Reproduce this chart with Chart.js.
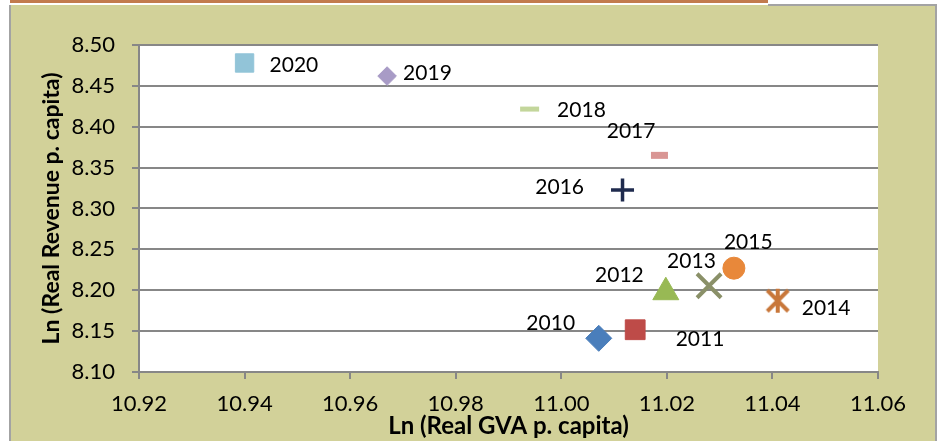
<!DOCTYPE html>
<html>
<head>
<meta charset="utf-8">
<script src="https://cdn.jsdelivr.net/npm/chart.js@4/dist/chart.umd.min.js"></script>
<style>
  html, body { margin: 0; padding: 0; background: #ffffff; }
  #wrap { position: relative; width: 943px; height: 441px; }
  canvas { display: block; }
</style>
</head>
<body>
<div id="wrap"><canvas id="c" width="943" height="441"></canvas></div>
<script>
// Years and the two log-scaled measures per year
const years = ['2010', '2011', '2012', '2013', '2014', '2015', '2016', '2017', '2018', '2019', '2020'];
const lnGvaPerCapita = [11.0071, 11.0140, 11.0198, 11.0280, 11.0410, 11.0327, 11.0116, 11.0186, 10.9940, 10.9670, 10.9400];
const lnRevenuePerCapita = [8.1412, 8.1517, 8.1976, 8.2055, 8.1872, 8.2270, 8.3225, 8.3650, 8.4216, 8.4620, 8.4780];

// Axis ticks
const xTickValues = [10.92, 10.94, 10.96, 10.98, 11.00, 11.02, 11.04, 11.06];
const yTickValues = [8.10, 8.15, 8.20, 8.25, 8.30, 8.35, 8.40, 8.45, 8.50];

// Asterisk marker (X with a vertical stroke)
function makeAsterisk(size, color, lw) {
  const cv = document.createElement('canvas');
  cv.width = size; cv.height = size;
  const g = cv.getContext('2d');
  g.strokeStyle = color; g.lineWidth = lw; g.lineCap = 'butt';
  const p = lw / 2 + 0.5, q = size - p, m = size / 2;
  g.beginPath();
  g.moveTo(p, p); g.lineTo(q, q);
  g.moveTo(q, p); g.lineTo(p, q);
  g.moveTo(m, 1); g.lineTo(m, size - 1);
  g.stroke();
  return cv;
}

// Marker look for each year
const markerStyles = [
  { style: 'rectRot',  r: 13,  color: '#4A7EBB', bw: 1 },
  { style: 'rect',     r: 14,  color: '#BE4B48', bw: 1 },
  { style: 'triangle', r: 15,  color: '#98B954', bw: 1 },
  { style: 'crossRot', r: 17,  color: '#8A9068', bw: 4 },
  { style: makeAsterisk(26, '#C8773A', 4), r: 13, color: '#C8773A', bw: 1 },
  { style: 'circle',   r: 11,  color: '#E8883A', bw: 1 },
  { style: 'cross',    r: 11.5, color: '#1F2B4E', bw: 3.5 },
  { style: 'line',     r: 8.5, color: '#D99694', bw: 7 },
  { style: 'line',     r: 9.5, color: '#C3D69B', bw: 5 },
  { style: 'rectRot',  r: 9.3, color: '#A89BC6', bw: 1 },
  { style: 'rect',     r: 13,  color: '#92C4D8', bw: 1 }
];

// Where each year's label sits relative to its marker
const labelPlacement = [
  { align: 'right', dx: -23.7, dy: -15.5 },
  { align: 'left',  dx: 40.5,  dy: 8.5 },
  { align: 'right', dx: -22,   dy: -18 },
  { align: 'left',  dx: -42,   dy: -25.5 },
  { align: 'left',  dx: 24,    dy: 7 },
  { align: 'left',  dx: -10,   dy: -26.5 },
  { align: 'right', dx: -38.5, dy: -4 },
  { align: 'right', dx: -4,    dy: -25 },
  { align: 'left',  dx: 27.5,  dy: 0 },
  { align: 'left',  dx: 16,    dy: -3.5 },
  { align: 'left',  dx: 25,    dy: 1 }
];

const datasets = years.map((yr, i) => ({
  label: yr,
  data: [{ x: lnGvaPerCapita[i], y: lnRevenuePerCapita[i] }],
  pointStyle: markerStyles[i].style,
  pointRadius: markerStyles[i].r,
  pointHoverRadius: markerStyles[i].r,
  pointBackgroundColor: markerStyles[i].color,
  pointBorderColor: markerStyles[i].color,
  pointBorderWidth: markerStyles[i].bw,
  showLine: false
}));

const FONT = 'Lato, "Liberation Sans", sans-serif';

// Panel background, frame and white plot area
const framePlugin = {
  id: 'frame',
  beforeDraw(chart) {
    const ctx = chart.ctx;
    const { left, top, right, bottom } = chart.chartArea;
    ctx.save();
    ctx.fillStyle = '#ffffff';
    ctx.fillRect(0, 0, chart.width, chart.height);
    ctx.fillStyle = '#D2D199';
    ctx.fillRect(9, 5, 928, 436);
    ctx.fillStyle = '#C27A4E';
    ctx.fillRect(10, 0, 758, 3);
    ctx.strokeStyle = '#A3A3A3';
    ctx.lineWidth = 2;
    ctx.beginPath();
    ctx.moveTo(10, 5); ctx.lineTo(10, 441);
    ctx.moveTo(936, 5); ctx.lineTo(936, 441);
    ctx.moveTo(768, 5); ctx.lineTo(937, 5);
    ctx.stroke();
    ctx.fillStyle = '#ffffff';
    ctx.fillRect(left, top, right - left, bottom - top);
    ctx.restore();
  }
};

// Year labels next to each marker
const yearLabelPlugin = {
  id: 'yearLabels',
  afterDatasetsDraw(chart) {
    const ctx = chart.ctx;
    ctx.save();
    ctx.font = '21px ' + FONT;
    ctx.fillStyle = '#000000';
    ctx.textBaseline = 'alphabetic';
    chart.data.datasets.forEach((ds, i) => {
      const el = chart.getDatasetMeta(i).data[0];
      const pl = labelPlacement[i];
      ctx.textAlign = pl.align;
      ctx.fillText(ds.label, el.x + pl.dx, el.y + pl.dy + 7.6);
    });
    ctx.restore();
  }
};

new Chart(document.getElementById('c'), {
  type: 'scatter',
  data: { datasets },
  options: {
    responsive: false,
    animation: false,
    devicePixelRatio: 1,
    layout: { padding: { left: 0, top: 45, right: 65, bottom: 0 } },
    plugins: { legend: { display: false }, tooltip: { enabled: false } },
    scales: {
      x: {
        type: 'linear',
        min: 10.92, max: 11.06,
        afterBuildTicks: s => { s.ticks = xTickValues.map(v => ({ value: v })); },
        afterFit: s => { s.height = 69; },
        grid: { drawOnChartArea: false, drawTicks: true, tickLength: 7, color: '#878787', lineWidth: 2 },
        border: { display: true, color: '#878787', width: 2 },
        ticks: {
          color: '#000000', padding: 12, maxRotation: 0, autoSkip: false,
          font: { family: FONT, size: 22 },
          callback: v => Number(v).toFixed(2)
        },
        title: {
          display: true, text: 'Ln (Real GVA p. capita)', color: '#000000',
          font: { family: FONT, size: 24, weight: 'bold' },
          padding: { top: 0, bottom: 0 }
        }
      },
      y: {
        type: 'linear',
        min: 8.10, max: 8.50,
        afterBuildTicks: s => { s.ticks = yTickValues.map(v => ({ value: v })); },
        afterFit: s => { s.width = 139; },
        grid: { drawOnChartArea: true, drawTicks: true, tickLength: 7, color: '#878787', lineWidth: 2 },
        border: { display: true, color: '#878787', width: 2 },
        ticks: {
          color: '#000000', padding: 17, autoSkip: false,
          font: { family: FONT, size: 22 },
          callback: v => Number(v).toFixed(2)
        },
        title: {
          display: true, text: 'Ln (Real Revenue p. capita)', color: '#000000',
          font: { family: FONT, size: 23, weight: 'bold' },
          padding: { top: 38, bottom: 0 }
        }
      }
    }
  },
  plugins: [framePlugin, yearLabelPlugin]
});
</script>
</body>
</html>
